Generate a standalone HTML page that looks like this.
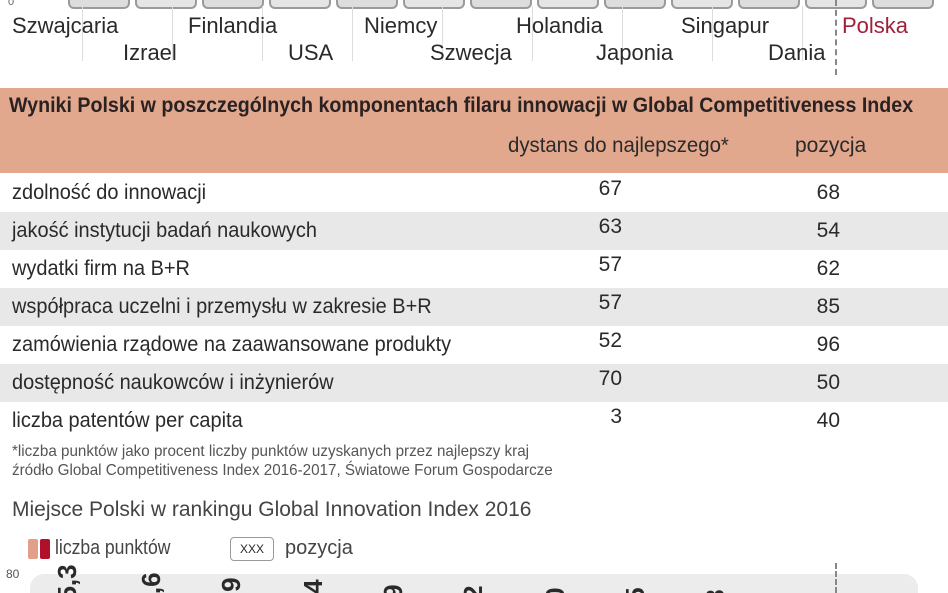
<!DOCTYPE html>
<html style="overflow:hidden;width:948px;height:593px"><head><meta charset="utf-8"><style>
body{margin:0;width:948px;height:593px;overflow:hidden;background:#fff;font-family:"Liberation Sans",sans-serif;color:#2a2a2a;position:relative}
.a{position:absolute;white-space:nowrap}
.pill{position:absolute;top:-8px;height:13px;width:58px;border:2px solid #9a9a9a;border-radius:6px;background:#ddd}
.vl{position:absolute;top:6px;height:55px;width:1px;background:#ddd}
.lab{font-size:22px;top:13px}
.lab2{font-size:22px;top:40px}
.row{position:absolute;left:0;width:948px;height:38px}
.t{font-size:21px;transform:scaleX(0.95);transform-origin:left top}
.n{font-size:21px;text-align:right}
.num{position:absolute;font-weight:bold;font-size:26px;transform:rotate(-90deg);transform-origin:left top}
</style></head><body>
<div class="a" style="left:8px;top:-4px;font-size:11px;color:#666">0</div>
<div class="pill" style="left:68px"></div><div class="pill" style="left:202px"></div><div class="pill" style="left:336px"></div><div class="pill" style="left:470px"></div><div class="pill" style="left:604px"></div><div class="pill" style="left:738px"></div><div class="pill" style="left:872px"></div>
<div class="pill" style="left:135px;background:#e5e5e5"></div><div class="pill" style="left:269px;background:#e5e5e5"></div><div class="pill" style="left:403px;background:#e5e5e5"></div><div class="pill" style="left:537px;background:#e5e5e5"></div><div class="pill" style="left:671px;background:#e5e5e5"></div><div class="pill" style="left:805px;background:#e5e5e5"></div>
<div class="vl" style="left:82px"></div><div class="vl" style="left:172px"></div><div class="vl" style="left:262px"></div><div class="vl" style="left:352px"></div><div class="vl" style="left:442px"></div><div class="vl" style="left:532px"></div><div class="vl" style="left:622px"></div><div class="vl" style="left:712px"></div><div class="vl" style="left:802px"></div>
<div class="a" style="left:835px;top:0;height:75px;border-left:2px dashed #888"></div>
<div class="a lab" style="left:12px">Szwajcaria</div>
<div class="a lab" style="left:188px">Finlandia</div>
<div class="a lab" style="left:364px">Niemcy</div>
<div class="a lab" style="left:516px">Holandia</div>
<div class="a lab" style="left:681px">Singapur</div>
<div class="a lab" style="left:842px;color:#a0203a">Polska</div>
<div class="a lab2" style="left:123px">Izrael</div>
<div class="a lab2" style="left:288px">USA</div>
<div class="a lab2" style="left:430px">Szwecja</div>
<div class="a lab2" style="left:596px">Japonia</div>
<div class="a lab2" style="left:768px">Dania</div>

<div class="a" style="left:0;top:88px;width:948px;height:85px;background:#e2a88e"></div>
<div class="a" style="left:9px;top:94px;font-size:21px;font-weight:bold;color:#2a2222;transform:scaleX(0.935);transform-origin:left top">Wyniki Polski w poszczególnych komponentach filaru innowacji w Global Competitiveness Index</div>
<div class="a" style="left:508px;top:134px;font-size:21px;transform:scaleX(0.97);transform-origin:left top">dystans do najlepszego*</div>
<div class="a" style="left:795px;top:134px;font-size:21px">pozycja</div>

<div class="row" style="top:212px;background:#e8e8e8"></div>
<div class="row" style="top:288px;background:#e8e8e8"></div>
<div class="row" style="top:364px;background:#e8e8e8"></div>

<div class="a t" style="left:12px;top:181px">zdolność do innowacji</div>
<div class="a t" style="left:12px;top:219px">jakość instytucji badań naukowych</div>
<div class="a t" style="left:12px;top:257px">wydatki firm na B+R</div>
<div class="a t" style="left:12px;top:295px">współpraca uczelni i przemysłu w zakresie B+R</div>
<div class="a t" style="left:12px;top:333px">zamówienia rządowe na zaawansowane produkty</div>
<div class="a t" style="left:12px;top:371px">dostępność naukowców i inżynierów</div>
<div class="a t" style="left:12px;top:409px">liczba patentów per capita</div>

<div class="a n" style="left:560px;width:62px;top:177px">67</div>
<div class="a n" style="left:560px;width:62px;top:215px">63</div>
<div class="a n" style="left:560px;width:62px;top:253px">57</div>
<div class="a n" style="left:560px;width:62px;top:291px">57</div>
<div class="a n" style="left:560px;width:62px;top:329px">52</div>
<div class="a n" style="left:560px;width:62px;top:367px">70</div>
<div class="a n" style="left:560px;width:62px;top:405px">3</div>
<div class="a n" style="left:780px;width:60px;top:181px">68</div>
<div class="a n" style="left:780px;width:60px;top:219px">54</div>
<div class="a n" style="left:780px;width:60px;top:257px">62</div>
<div class="a n" style="left:780px;width:60px;top:295px">85</div>
<div class="a n" style="left:780px;width:60px;top:333px">96</div>
<div class="a n" style="left:780px;width:60px;top:371px">50</div>
<div class="a n" style="left:780px;width:60px;top:409px">40</div>

<div class="a" style="left:12px;top:443px;font-size:16px;color:#555;transform:scaleX(0.95);transform-origin:left top">*liczba punktów jako procent liczby punktów uzyskanych przez najlepszy kraj</div>
<div class="a" style="left:12px;top:462px;font-size:16px;color:#555;transform:scaleX(0.95);transform-origin:left top">źródło Global Competitiveness Index 2016-2017, Światowe Forum Gospodarcze</div>

<div class="a" style="left:12px;top:498px;font-size:21px;color:#444">Miejsce Polski w rankingu Global Innovation Index 2016</div>
<div class="a" style="left:28px;top:539px;width:10px;height:20px;background:#e2a08a;border-radius:2px"></div>
<div class="a" style="left:40px;top:539px;width:10px;height:20px;background:#b0102a;border-radius:2px"></div>
<div class="a" style="left:55px;top:537px;font-size:20px;color:#444;transform:scaleX(0.88);transform-origin:left top">liczba punktów</div>
<div class="a" style="left:230px;top:537px;width:42px;height:22px;border:1px solid #999;border-radius:4px;font-size:12px;text-align:center;line-height:22px">XXX</div>
<div class="a" style="left:285px;top:537px;font-size:20px;color:#444">pozycja</div>
<div class="a" style="left:6px;top:567px;font-size:12px;color:#555">80</div>
<div class="a" style="left:30px;top:574px;width:888px;height:19px;background:#ececec;border-radius:14px 14px 0 0"></div>
<div class="a" style="left:835px;top:563px;height:30px;border-left:2px dashed #888"></div>
<div class="num" style="left:52px;top:615px">65,3</div>
<div class="num" style="left:136px;top:623px">63,6</div>
<div class="num" style="left:216px;top:628px">61,9</div>
<div class="num" style="left:298px;top:630px">61,4</div>
<div class="num" style="left:378px;top:635px">59,9</div>
<div class="num" style="left:458px;top:636px">59,2</div>
<div class="num" style="left:540px;top:638px">58,0</div>
<div class="num" style="left:620px;top:638px">57,5</div>
<div class="num" style="left:700px;top:640px">56,8</div>
<div class="num" style="left:784px;top:640px;font-size:18px;color:#888">55,1</div>
</body></html>
